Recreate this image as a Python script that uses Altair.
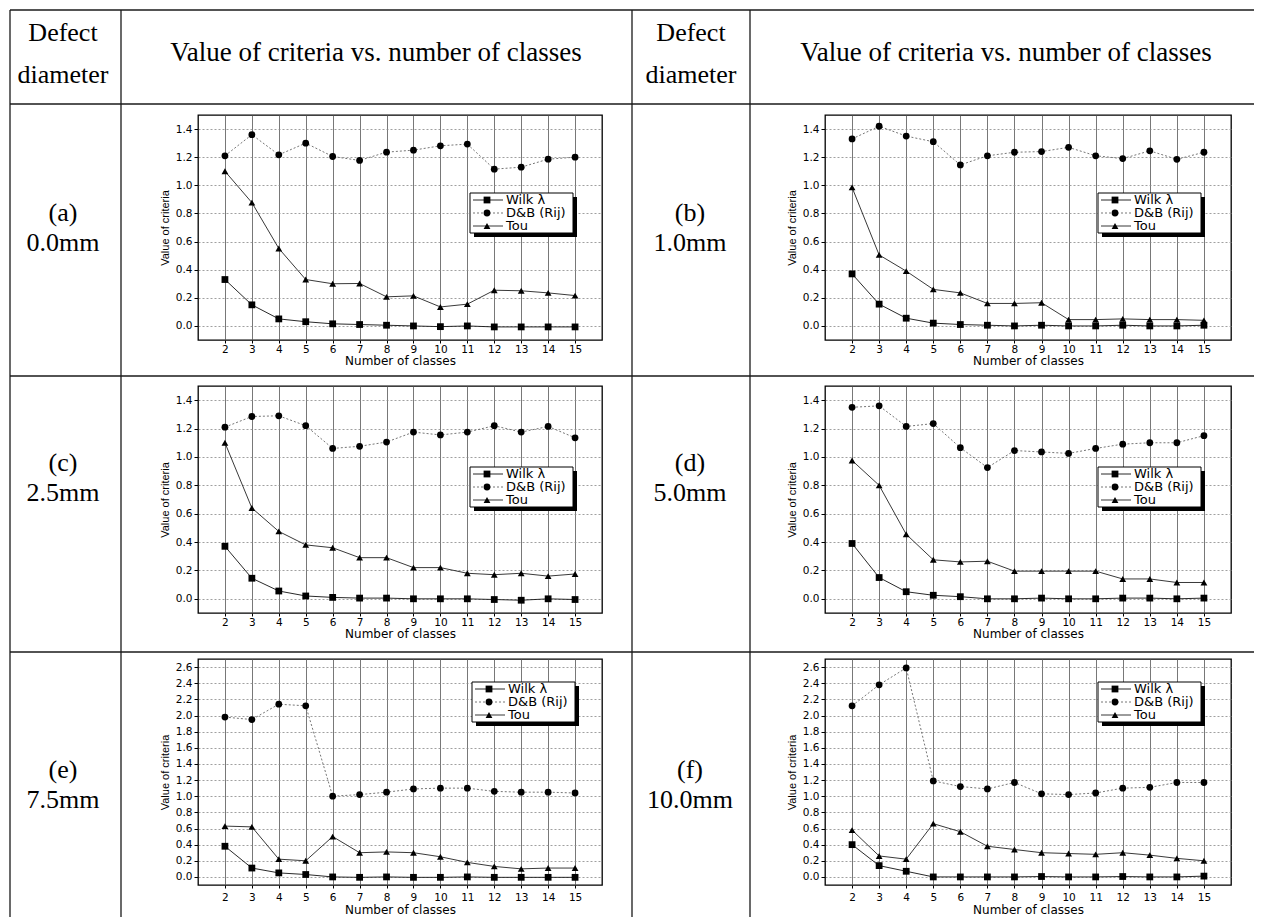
import altair as alt
import pandas as pd

classes = list(range(2, 16))
series_keys = ["wilk", "db", "tou"]
series_names = ["Wilk λ", "D&B (Rij)", "Tou"]
panel_letters = ["(a)", "(b)", "(c)", "(d)", "(e)", "(f)"]
diameters = ["0.0mm", "1.0mm", "2.5mm", "5.0mm", "7.5mm", "10.0mm"]
header_cell = ["Defect", "diameter"]
header_title = "Value of criteria vs. number of classes"
x_title = "Number of classes"
y_title = "Value of criteria"
y_ticks_small = [0.0, 0.2, 0.4, 0.6, 0.8, 1.0, 1.2, 1.4]
y_ticks_large = [0.0, 0.2, 0.4, 0.6, 0.8, 1.0, 1.2, 1.4, 1.6, 1.8, 2.0, 2.2, 2.4, 2.6]

# (a) 0.0mm
wilk_a = [0.33, 0.15, 0.05, 0.03, 0.015, 0.01, 0.005, 0.0, -0.005, 0.0, -0.007, -0.007, -0.007, -0.007]
db_a = [1.21, 1.36, 1.217, 1.30, 1.205, 1.177, 1.236, 1.25, 1.281, 1.293, 1.115, 1.129, 1.186, 1.20]
tou_a = [1.10, 0.877, 0.551, 0.33, 0.30, 0.302, 0.207, 0.214, 0.135, 0.155, 0.254, 0.25, 0.235, 0.216]
# (b) 1.0mm
wilk_b = [0.37, 0.155, 0.055, 0.02, 0.01, 0.005, 0.0, 0.005, 0.0, 0.0, 0.005, 0.0, 0.0, 0.005]
db_b = [1.33, 1.42, 1.35, 1.31, 1.145, 1.21, 1.235, 1.24, 1.27, 1.21, 1.19, 1.245, 1.185, 1.235]
tou_b = [0.985, 0.505, 0.39, 0.26, 0.235, 0.16, 0.16, 0.165, 0.045, 0.045, 0.05, 0.045, 0.045, 0.04]
# (c) 2.5mm
wilk_c = [0.37, 0.145, 0.055, 0.02, 0.01, 0.005, 0.005, 0.0, 0.0, 0.0, -0.005, -0.01, 0.0, -0.005]
db_c = [1.21, 1.285, 1.29, 1.22, 1.06, 1.075, 1.105, 1.175, 1.155, 1.175, 1.22, 1.175, 1.215, 1.135]
tou_c = [1.10, 0.64, 0.475, 0.38, 0.36, 0.29, 0.29, 0.22, 0.22, 0.18, 0.17, 0.18, 0.16, 0.175]
# (d) 5.0mm
wilk_d = [0.39, 0.15, 0.05, 0.025, 0.015, 0.0, 0.0, 0.005, 0.0, 0.0, 0.005, 0.005, 0.0, 0.005]
db_d = [1.35, 1.36, 1.215, 1.235, 1.065, 0.925, 1.045, 1.035, 1.025, 1.06, 1.09, 1.10, 1.10, 1.15]
tou_d = [0.975, 0.80, 0.455, 0.275, 0.26, 0.265, 0.195, 0.195, 0.195, 0.195, 0.14, 0.14, 0.115, 0.115]
# (e) 7.5mm
wilk_e = [0.38, 0.11, 0.05, 0.03, 0.0, -0.005, 0.0, -0.005, -0.005, 0.0, -0.005, -0.005, -0.005, -0.005]
db_e = [1.98, 1.95, 2.14, 2.12, 1.0, 1.02, 1.05, 1.09, 1.10, 1.10, 1.06, 1.05, 1.05, 1.04]
tou_e = [0.63, 0.62, 0.22, 0.20, 0.50, 0.30, 0.31, 0.30, 0.25, 0.18, 0.13, 0.10, 0.11, 0.11]
# (f) 10.0mm
wilk_f = [0.40, 0.14, 0.07, 0.0, 0.0, 0.0, 0.0, 0.005, 0.0, 0.0, 0.005, 0.0, 0.0, 0.01]
db_f = [2.12, 2.38, 2.59, 1.19, 1.12, 1.09, 1.17, 1.03, 1.02, 1.04, 1.10, 1.11, 1.17, 1.17]
tou_f = [0.58, 0.26, 0.22, 0.66, 0.56, 0.38, 0.34, 0.30, 0.29, 0.28, 0.30, 0.27, 0.23, 0.20]

SANS = "DejaVu Sans"
ARIAL = "Liberation Sans"
SERIF = "Liberation Serif"
LINE_STYLES = {
    "wilk": dict(color="#111111", strokeWidth=0.9),
    "db": dict(color="#666666", strokeWidth=0.9, strokeDash=[2, 2]),
    "tou": dict(color="#222222", strokeWidth=0.9),
}
SHAPES = {"wilk": "square", "db": "circle", "tou": "triangle-up"}
MARK_SIZE = 46
ONE = pd.DataFrame({"n": [0]})


def rule(x1, x2, y1, y2, color="#1a1a1a", width=1.3):
    return alt.Chart(ONE).mark_rule(color=color, strokeWidth=width).encode(
        x=alt.value(x1), x2=alt.value(x2), y=alt.value(y1), y2=alt.value(y2))


def text(label, x, y, size, font=SERIF, align="center"):
    return alt.Chart(pd.DataFrame({"t": [label]})).mark_text(
        font=font, fontSize=size, align=align, baseline="middle", color="black"
    ).encode(x=alt.value(x), y=alt.value(y), text="t:N")


def panel(idx, wilk, db, tou, width, height, ymax, yticks, legend_x, legend_top, label_y,
          label_pad=1, title_pad=1, extra=()):
    df = pd.DataFrame({
        "k": classes * 3,
        "v": wilk + db + tou,
        "s": sum([[key] * len(classes) for key in series_keys], []),
    })
    x = alt.X("k:Q", scale=alt.Scale(domain=[1, 16], nice=False, zero=False),
              axis=alt.Axis(values=classes, title=x_title, grid=True, gridColor="#555555",
                            gridWidth=0.8, domain=False, tickColor="black", tickSize=3,
                            labelFont=SANS, labelFontSize=10.5, labelPadding=label_pad,
                            labelColor="black", titleFont=SANS, titleFontSize=12,
                            titleFontWeight="normal", titlePadding=title_pad, titleColor="black"))
    y = alt.Y("v:Q", scale=alt.Scale(domain=[-0.1, ymax], nice=False, zero=False),
              axis=alt.Axis(values=yticks, format=".1f", title=y_title, grid=True,
                            gridColor="#888888", gridDash=[2, 2], gridWidth=0.8, domain=False,
                            tickColor="black", tickSize=4, labelFont=SANS, labelFontSize=10.5,
                            labelPadding=2, labelColor="black", titleFont=ARIAL,
                            titleFontSize=11, titleFontWeight="normal", titlePadding=5,
                            titleColor="black"))
    base = alt.Chart(df).encode(x=x, y=y)
    layers = list(extra)
    for key in series_keys:
        layers.append(base.transform_filter(alt.datum.s == key).mark_line(**LINE_STYLES[key]))
    layers.append(base.mark_point(filled=True, opacity=1, color="black", size=MARK_SIZE).encode(
        shape=alt.Shape("s:N", scale=alt.Scale(domain=series_keys,
                                               range=[SHAPES[k] for k in series_keys]),
                        legend=None)))
    # legend box with shadow
    LW, LH = 103, 40
    lx, ly = legend_x, legend_top
    layers.append(alt.Chart(ONE).mark_rect(color="black").encode(
        x=alt.value(lx + 4), x2=alt.value(lx + LW + 4), y=alt.value(ly + 4), y2=alt.value(ly + LH + 4)))
    layers.append(alt.Chart(ONE).mark_rect(fill="white", stroke="black", strokeWidth=1).encode(
        x=alt.value(lx), x2=alt.value(lx + LW), y=alt.value(ly), y2=alt.value(ly + LH)))
    for i, key in enumerate(series_keys):
        yy = ly + 7 + 13 * i
        layers.append(alt.Chart(ONE).mark_rule(**LINE_STYLES[key]).encode(
            x=alt.value(lx + 3), x2=alt.value(lx + 33), y=alt.value(yy), y2=alt.value(yy)))
        layers.append(alt.Chart(ONE).mark_point(shape=SHAPES[key], filled=True, opacity=1,
                                                color="black", size=MARK_SIZE).encode(
            x=alt.value(lx + 17), y=alt.value(yy)))
        layers.append(text(series_names[i], lx + 36, yy, 13, font=SANS, align="left"))
    # row label cell
    layers.append(text(panel_letters[idx], -135, label_y, 26))
    layers.append(text(diameters[idx], -135, label_y + 30, 26))
    return alt.layer(*layers).properties(width=width, height=height)


# table decoration, relative to panel (a) origin
TOP = -105
LEFT = -188
VX = [LEFT, -77, 434, 552]
HY = [TOP, -11, 261, 537]
table = []
for vx in VX:
    table.append(rule(vx, vx, TOP, 802))
for hy in HY:
    table.append(rule(LEFT, 1056, hy, hy))
for cx, tx in [(-135, 178), (493, 808)]:
    table.append(text(header_cell[0], cx, -82, 26))
    table.append(text(header_cell[1], cx, -40, 26))
    table.append(text(header_title, tx, -62, 27))

pa = panel(0, wilk_a, db_a, tou_a, 404, 225, 1.5, y_ticks_small, 272, 78, 98, extra=table)
pb = panel(1, wilk_b, db_b, tou_b, 406, 225, 1.5, y_ticks_small, 273, 78, 98)
pc = panel(2, wilk_c, db_c, tou_c, 404, 227, 1.5, y_ticks_small, 272, 81, 77)
pd_ = panel(3, wilk_d, db_d, tou_d, 406, 227, 1.5, y_ticks_small, 273, 81, 77)
pe = panel(4, wilk_e, db_e, tou_e, 404, 226, 2.7, y_ticks_large, 274, 23, 111,
           label_pad=4, title_pad=2)
pf = panel(5, wilk_f, db_f, tou_f, 406, 226, 2.7, y_ticks_large, 273, 23, 111,
           label_pad=4, title_pad=2)

chart = alt.concat(
    pa, pb, pc, pd_, pe, pf,
    columns=2,
    spacing={"row": 46, "column": 223},
    bounds="flush",
    padding=0,
    background="white",
).configure_view(stroke="black", strokeWidth=1.3)

chart.save("out.html", embed_options={"renderer": "svg", "actions": False})
